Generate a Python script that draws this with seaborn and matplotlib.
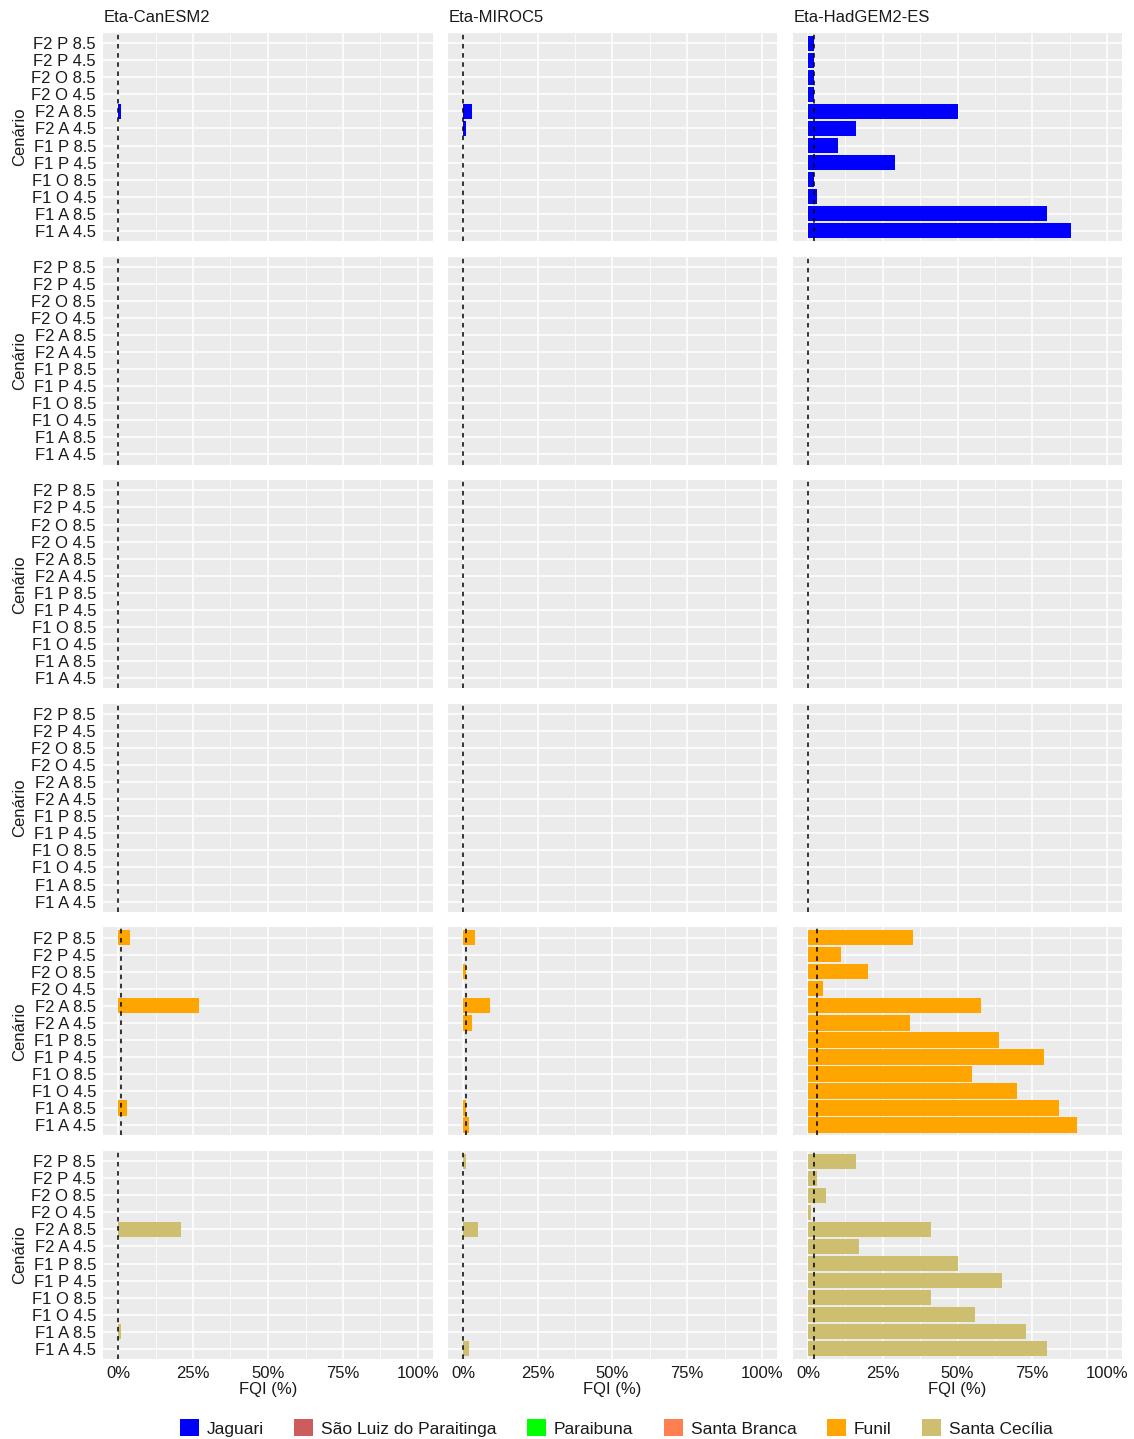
import matplotlib
matplotlib.use("Agg")
import numpy as np
import pandas as pd
import seaborn as sns
import matplotlib.pyplot as plt
from matplotlib.patches import Patch
from matplotlib.ticker import MultipleLocator, PercentFormatter

# Scenarios, listed from the bottom of each panel to the top
scenarios = ["F1 A 4.5", "F1 A 8.5", "F1 O 4.5", "F1 O 8.5", "F1 P 4.5", "F1 P 8.5",
             "F2 A 4.5", "F2 A 8.5", "F2 O 4.5", "F2 O 8.5", "F2 P 4.5", "F2 P 8.5"]
models = ["Eta-CanESM2", "Eta-MIROC5", "Eta-HadGEM2-ES"]
reservoirs = ["Jaguari", "São Luiz do Paraitinga", "Paraibuna", "Santa Branca",
              "Funil", "Santa Cecília"]
res_colors = ["#0000FF", "#CD5C5C", "#00FF00", "#FF7F50", "#FFA500", "#CDBE70"]

# FQI (%) per reservoir, one list per model, in scenario order
jaguari_canesm2 = [0, 0, 0, 0, 0, 0, 0, 1, 0, 0, 0, 0]
jaguari_miroc5 = [0, 0, 0, 0, 0, 0, 1, 3, 0, 0, 0, 0]
jaguari_hadgem = [88, 80, 3, 2, 29, 10, 16, 50, 2, 2, 2, 2]

sluiz_canesm2 = [0, 0, 0, 0, 0, 0, 0, 0, 0, 0, 0, 0]
sluiz_miroc5 = [0, 0, 0, 0, 0, 0, 0, 0, 0, 0, 0, 0]
sluiz_hadgem = [0, 0, 0, 0, 0, 0, 0, 0, 0, 0, 0, 0]

paraibuna_canesm2 = [0, 0, 0, 0, 0, 0, 0, 0, 0, 0, 0, 0]
paraibuna_miroc5 = [0, 0, 0, 0, 0, 0, 0, 0, 0, 0, 0, 0]
paraibuna_hadgem = [0, 0, 0, 0, 0, 0, 0, 0, 0, 0, 0, 0]

sbranca_canesm2 = [0, 0, 0, 0, 0, 0, 0, 0, 0, 0, 0, 0]
sbranca_miroc5 = [0, 0, 0, 0, 0, 0, 0, 0, 0, 0, 0, 0]
sbranca_hadgem = [0, 0, 0, 0, 0, 0, 0, 0, 0, 0, 0, 0]

funil_canesm2 = [0, 3, 0, 0, 0, 0, 0, 27, 0, 0, 0, 4]
funil_miroc5 = [2, 1, 0, 0, 0, 0, 3, 9, 0, 1, 0, 4]
funil_hadgem = [90, 84, 70, 55, 79, 64, 34, 58, 5, 20, 11, 35]

scecilia_canesm2 = [0, 1, 0, 0, 0, 0, 0, 21, 0, 0, 0, 0]
scecilia_miroc5 = [2, 0, 0, 0, 0, 0, 0, 5, 0, 0, 0, 1]
scecilia_hadgem = [80, 73, 56, 41, 65, 50, 17, 41, 1, 6, 3, 16]

# Reference FQI (%) shown as dashed line, per reservoir and model
ref_jaguari = [0, 0, 2]
ref_sluiz = [0, 0, 0]
ref_paraibuna = [0, 0, 0]
ref_sbranca = [0, 0, 0]
ref_funil = [1, 1, 3]
ref_scecilia = [0, 0, 2]

series = {
    "Jaguari": [jaguari_canesm2, jaguari_miroc5, jaguari_hadgem],
    "São Luiz do Paraitinga": [sluiz_canesm2, sluiz_miroc5, sluiz_hadgem],
    "Paraibuna": [paraibuna_canesm2, paraibuna_miroc5, paraibuna_hadgem],
    "Santa Branca": [sbranca_canesm2, sbranca_miroc5, sbranca_hadgem],
    "Funil": [funil_canesm2, funil_miroc5, funil_hadgem],
    "Santa Cecília": [scecilia_canesm2, scecilia_miroc5, scecilia_hadgem],
}
refs = {
    "Jaguari": ref_jaguari, "São Luiz do Paraitinga": ref_sluiz,
    "Paraibuna": ref_paraibuna, "Santa Branca": ref_sbranca,
    "Funil": ref_funil, "Santa Cecília": ref_scecilia,
}

rows = []
for res in reservoirs:
    for m, vals in zip(models, series[res]):
        for sc, v in zip(scenarios, vals):
            rows.append({"Reservatorio": res, "Modelo": m, "Cenario": sc, "FQI": v / 100})
df = pd.DataFrame(rows)

sns.set_theme(style="darkgrid")
plt.rcParams["font.family"] = ["Liberation Sans", "DejaVu Sans"]

W, H = 1134, 1439
fig = plt.figure(figsize=(W / 100, H / 100), dpi=100)
fig.patch.set_facecolor("white")

col_x = [(103, 433), (448, 777), (793, 1122)]
panel_h = 208
row_step = 223.6
top0 = 33
order = scenarios[::-1]
txt_color = "#1A1A1A"
fs = 12

for i, res in enumerate(reservoirs):
    top = top0 + i * row_step
    for j, m in enumerate(models):
        x0, x1 = col_x[j]
        ax = fig.add_axes([x0 / W, 1 - (top + panel_h) / H, (x1 - x0) / W, panel_h / H])
        ax.set_facecolor("#EBEBEB")
        sub = df[(df["Reservatorio"] == res) & (df["Modelo"] == m)]
        sns.barplot(data=sub, x="FQI", y="Cenario", order=order, orient="h",
                    color=res_colors[i], saturation=1, width=0.9, linewidth=0,
                    errorbar=None, ax=ax)
        ax.axvline(refs[res][j] / 100, color="black", lw=1.1, ls=(0, (3, 3)), zorder=5)
        ax.set_xlim(-0.05, 1.05)
        ax.set_ylim(11.6, -0.6)
        ax.xaxis.set_major_locator(MultipleLocator(0.25))
        ax.xaxis.set_minor_locator(MultipleLocator(0.125))
        ax.xaxis.set_major_formatter(PercentFormatter(1.0, decimals=0))
        ax.grid(which="major", color="white", lw=1.1)
        ax.grid(which="minor", axis="x", color="white", lw=0.55)
        ax.set_axisbelow(True)
        for s in ax.spines.values():
            s.set_visible(False)
        ax.tick_params(axis="both", which="major", length=3, width=0.8,
                       color="#333333", labelsize=fs, labelcolor=txt_color, pad=2)
        ax.tick_params(axis="x", which="minor", length=0)
        ax.set_xlabel("")
        ax.set_ylabel("")
        if j == 0:
            ax.set_ylabel("Cenário", fontsize=fs, color=txt_color, labelpad=3)
        else:
            ax.tick_params(axis="y", left=False, labelleft=False)
        if i == len(reservoirs) - 1:
            ax.set_xlabel("FQI (%)", fontsize=fs, color=txt_color, labelpad=1)
        else:
            ax.tick_params(axis="x", bottom=False, labelbottom=False)
        if i == 0:
            fig.text((x0 + 1) / W, 1 - 17 / H, m, ha="left", va="center",
                     fontsize=fs, color=txt_color)

handles = [Patch(facecolor=c, edgecolor="none") for c in res_colors]
fig.legend(handles, reservoirs, loc="center", bbox_to_anchor=(616 / W, 1 - 1428 / H),
           ncol=6, frameon=False, fontsize=fs + 0.5, handlelength=1.1,
           handleheight=1.1, handletextpad=0.45, columnspacing=1.75,
           labelcolor=txt_color)

fig.savefig("out.png", dpi=100, facecolor="white")
